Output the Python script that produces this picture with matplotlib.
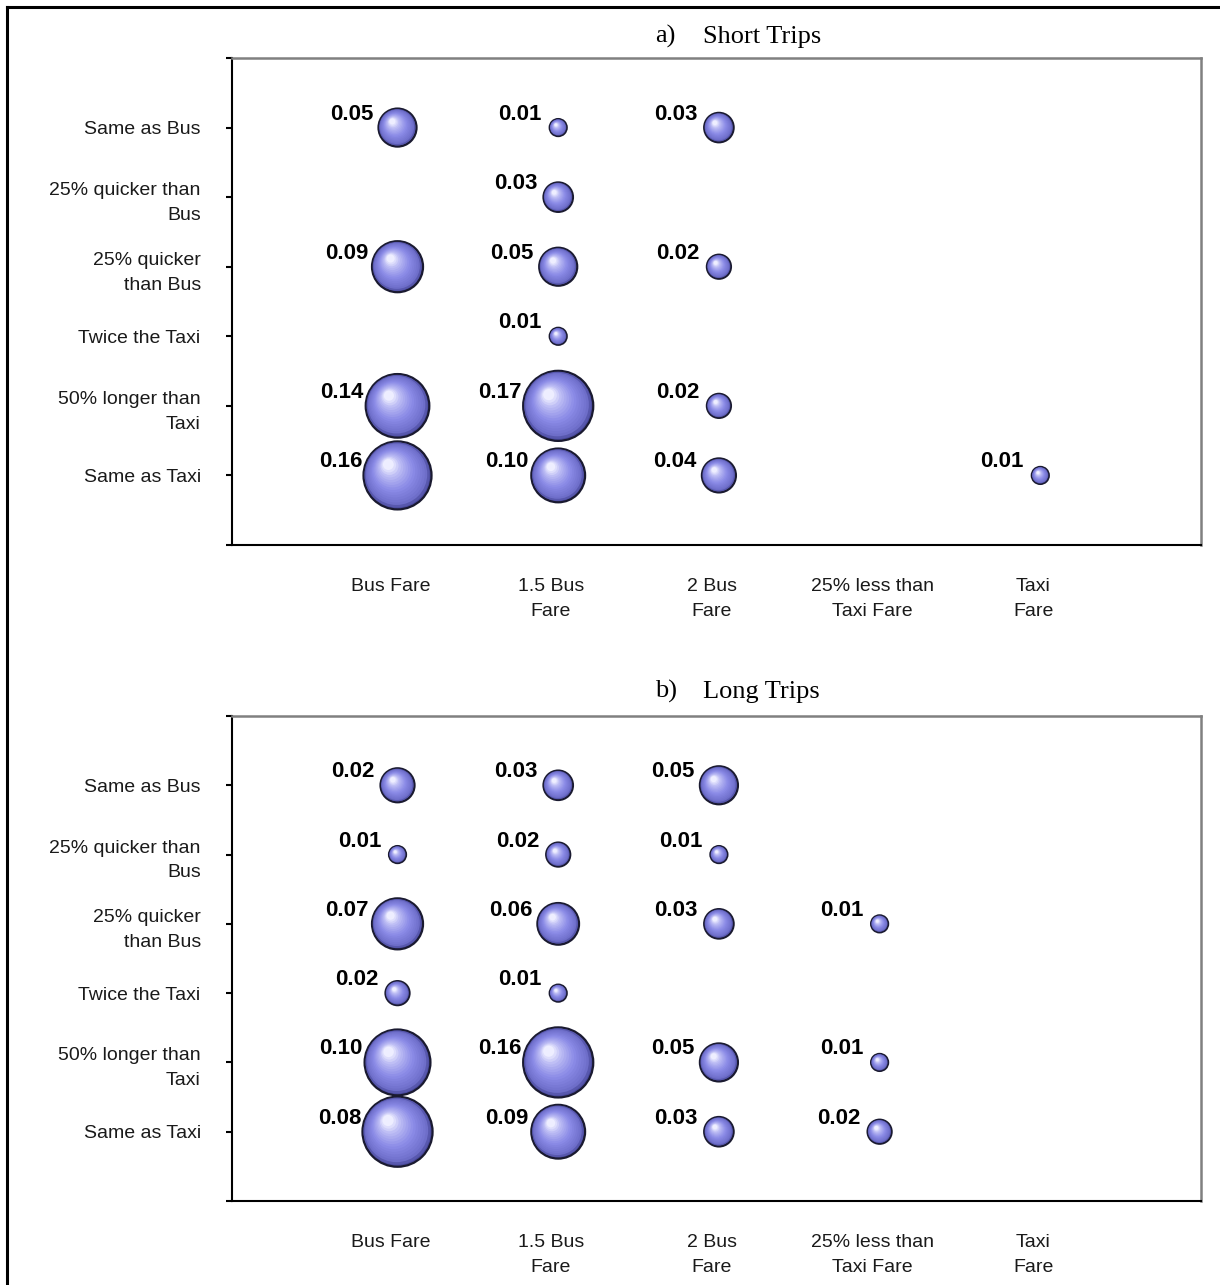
import numpy as np
import matplotlib
matplotlib.use("Agg")
import matplotlib.pyplot as plt
from matplotlib.path import Path
from matplotlib.lines import Line2D
from matplotlib.colors import LinearSegmentedColormap

# Category labels
fare_labels = ["Bus Fare", "1.5 Bus\nFare", "2 Bus\nFare",
               "25% less than\nTaxi Fare", "Taxi\nFare"]
time_labels = ["Same as Bus", "25% quicker than\nBus", "25% quicker\nthan Bus",
               "Twice the Taxi", "50% longer than\nTaxi", "Same as Taxi"]

# a) Short trips: fare index, time index, printed share
short_fare = [1, 2, 3, 2, 1, 2, 3, 2, 1, 2, 3, 1, 2, 3, 5]
short_time = [1, 1, 1, 2, 3, 3, 3, 4, 5, 5, 5, 6, 6, 6, 6]
short_share = [0.05, 0.01, 0.03, 0.03, 0.09, 0.05, 0.02, 0.01,
               0.14, 0.17, 0.02, 0.16, 0.10, 0.04, 0.01]
short_size = short_share

# b) Long trips
long_fare = [1, 2, 3, 1, 2, 3, 1, 2, 3, 4, 1, 2, 1, 2, 3, 4, 1, 2, 3, 4]
long_time = [1, 1, 1, 2, 2, 2, 3, 3, 3, 3, 4, 4, 5, 5, 5, 5, 6, 6, 6, 6]
long_share = [0.02, 0.03, 0.05, 0.01, 0.02, 0.01, 0.07, 0.06, 0.03, 0.01,
              0.02, 0.01, 0.10, 0.16, 0.05, 0.01, 0.08, 0.09, 0.03, 0.02]
# bubble areas as drawn (Bus Fare column is drawn bigger than its printed share)
long_size = [0.04, 0.03, 0.05, 0.01, 0.02, 0.01, 0.09, 0.06, 0.03, 0.01,
             0.02, 0.01, 0.15, 0.17, 0.05, 0.01, 0.17, 0.10, 0.03, 0.02]

W, H = 1220, 1285
SANS = ["Liberation Sans", "DejaVu Sans"]
SERIF = ["Liberation Serif", "DejaVu Serif"]
AREA = 14982  # points^2 per unit share

shade = LinearSegmentedColormap.from_list(
    "ball", [(0.0, "#48489a"), (0.12, "#7070cc"), (0.45, "#8a8ae6"),
             (0.8, "#bcbcf4"), (1.0, "#eeeeff")])


def ball_marker(k, dx, dy):
    # offset circle inside a fixed [-1,1] frame so markers keep the same scale
    circ = Path.circle((dx, dy), k)
    verts = np.vstack([[[-1, -1], [1, 1]], circ.vertices])
    codes = np.concatenate([[Path.MOVETO, Path.MOVETO], circ.codes])
    return Path(verts, codes)


def panel(ax, fare, time, share, size):
    fare = np.array(fare)
    time = np.array(time)
    size = np.array(size)
    s = size * AREA
    ax.scatter(fare, time, s=s, marker=ball_marker(1.0, 0, 0), color="#48489a",
               edgecolors="#1a1a30", linewidths=1.6, zorder=3)
    for t in np.linspace(0.05, 1, 16):
        k = 1 - 0.84 * t
        ax.scatter(fare, time, s=s, marker=ball_marker(k, -0.27 * t, 0.32 * t),
                   color=shade(t), linewidths=0, zorder=3)
    for x, y, v, z in zip(fare, time, share, size):
        r = 85 * np.sqrt(z)
        ax.annotate(f"{v:.2f}", (x, y), xytext=(-(0.75 * r + 10) * 0.72, 8 * 0.72),
                    textcoords="offset points", ha="right", va="baseline",
                    fontsize=16, fontweight="bold", family=SANS, zorder=5)

    ax.set_xlim(-0.03, 6)
    ax.set_ylim(7, 0)
    ax.set_yticks(range(8))
    ax.set_yticklabels([""] + time_labels + [""], family=SANS, fontsize=14,
                       color="#1a1a1a", linespacing=1.6)
    # fare labels sit a few pixels left of the bubble columns
    ax.set_xticks(np.arange(1, 6) - 0.045)
    ax.set_xticklabels(fare_labels, family=SANS, fontsize=14, color="#1a1a1a",
                       linespacing=1.6)
    ax.tick_params(axis="y", length=4.5, width=1.5, pad=18, direction="out")
    ax.tick_params(axis="x", length=0, pad=24)
    for side in ["left", "bottom"]:
        ax.spines[side].set_color("black")
        ax.spines[side].set_linewidth(1.5)
    for side in ["top", "right"]:
        ax.spines[side].set_color("#808080")
        ax.spines[side].set_linewidth(1.8)


fig = plt.figure(figsize=(W / 100, H / 100), dpi=100)
ax_a = fig.add_axes([232 / W, 1 - 545 / H, (1201 - 232) / W, (545 - 58) / H])
ax_b = fig.add_axes([232 / W, 1 - 1201 / H, (1201 - 232) / W, (1201 - 716) / H])

panel(ax_a, short_fare, short_time, short_share, short_size)
panel(ax_b, long_fare, long_time, long_share, long_size)

# panel titles
fig.text(655 / W, 1 - 43 / H, "a)", family=SERIF, fontsize=19, va="baseline")
fig.text(703 / W, 1 - 43 / H, "Short Trips", family=SERIF, fontsize=19, va="baseline")
fig.text(655 / W, 1 - 698 / H, "b)", family=SERIF, fontsize=19, va="baseline")
fig.text(703 / W, 1 - 698 / H, "Long Trips", family=SERIF, fontsize=19, va="baseline")

# outer frame (left and top edges)
fig.add_artist(Line2D([7 / W, 7 / W], [0, 1 - 7 / H], transform=fig.transFigure,
                      color="black", lw=2.2))
fig.add_artist(Line2D([7 / W, 1], [1 - 7 / H, 1 - 7 / H], transform=fig.transFigure,
                      color="black", lw=2.2))

fig.savefig("out.png", dpi=100)
